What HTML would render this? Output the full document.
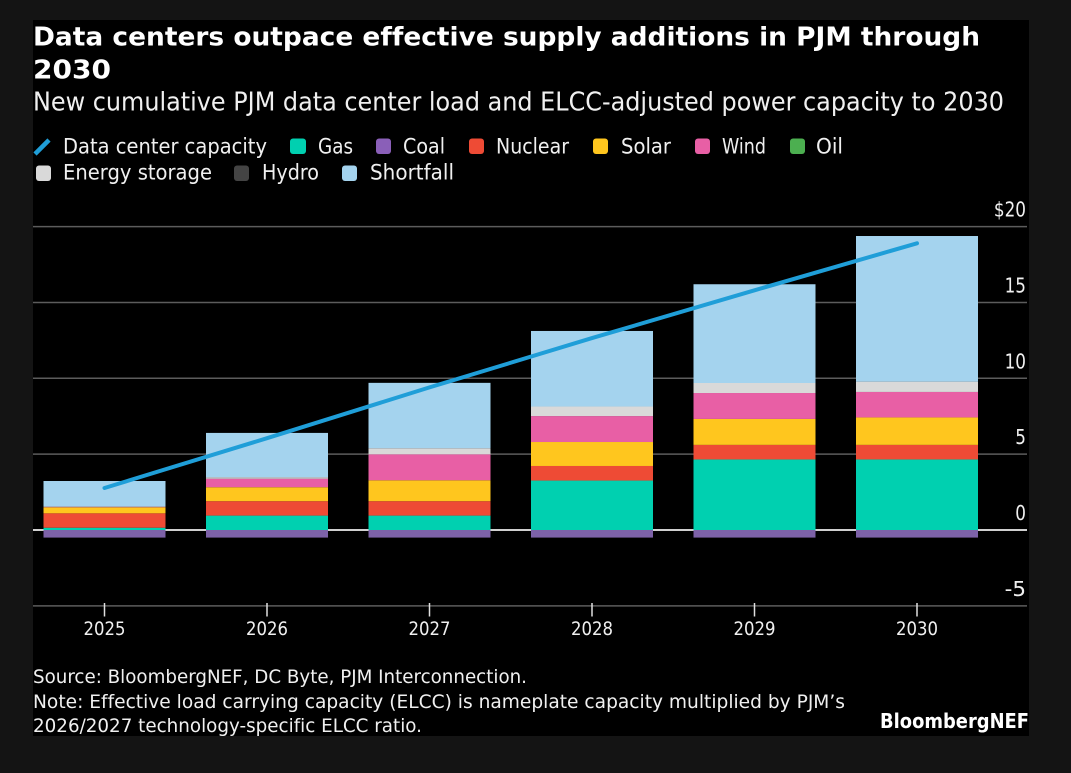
<!DOCTYPE html>
<html>
<head>
<meta charset="utf-8">
<style>
html,body{margin:0;padding:0;background:#141414;width:1071px;height:773px;overflow:hidden}
svg{display:block}
text{font-family:"DejaVu Sans","Liberation Sans",sans-serif;fill:#f0f0f0;font-variant-ligatures:none}
</style>
</head>
<body>
<svg id="chart" xmlns="http://www.w3.org/2000/svg" width="1071" height="773" viewBox="0 0 1071 773">
  <rect x="0" y="0" width="1071" height="773" fill="#141414"/>
  <rect x="33" y="20" width="996" height="716" fill="#000"/>
  <text x="33" y="45.5" font-size="26" font-weight="700" textLength="947" lengthAdjust="spacingAndGlyphs" style="fill:#fff">Data centers outpace effective supply additions in PJM through</text>
  <text x="33" y="78.5" font-size="26" font-weight="700" textLength="78" lengthAdjust="spacingAndGlyphs" style="fill:#fff">2030</text>
  <text x="33" y="110.5" font-size="26" textLength="971" lengthAdjust="spacingAndGlyphs">New cumulative PJM data center load and ELCC-adjusted power capacity to 2030</text>

  <g>
    <line x1="35" y1="154" x2="49" y2="140" stroke="#1f9ed8" stroke-width="4.5"/>
    <text x="63" y="153.5" font-size="21" textLength="204" lengthAdjust="spacingAndGlyphs">Data center capacity</text>
    <rect x="290" y="138.5" width="16" height="15.5" rx="3" fill="#00d0b0"/>
    <text x="318" y="153.5" font-size="21" textLength="35" lengthAdjust="spacingAndGlyphs">Gas</text>
    <rect x="376" y="138.5" width="15" height="15.5" rx="3" fill="#8a5fb8"/>
    <text x="403" y="153.5" font-size="21" textLength="42" lengthAdjust="spacingAndGlyphs">Coal</text>
    <rect x="469" y="138.5" width="15" height="15.5" rx="3" fill="#ee4b35"/>
    <text x="496" y="153.5" font-size="21" textLength="73" lengthAdjust="spacingAndGlyphs">Nuclear</text>
    <rect x="593" y="138.5" width="15" height="15.5" rx="3" fill="#ffc61e"/>
    <text x="621" y="153.5" font-size="21" textLength="50" lengthAdjust="spacingAndGlyphs">Solar</text>
    <rect x="695" y="138.5" width="15" height="15.5" rx="3" fill="#e85fa5"/>
    <text x="722" y="153.5" font-size="21" textLength="44" lengthAdjust="spacingAndGlyphs">Wind</text>
    <rect x="790" y="138.5" width="15" height="15.5" rx="3" fill="#4caf50"/>
    <text x="816" y="153.5" font-size="21" textLength="27" lengthAdjust="spacingAndGlyphs">Oil</text>
    <rect x="36" y="165.5" width="15" height="15.5" rx="3" fill="#d9d9d9"/>
    <text x="63" y="179.5" font-size="21" textLength="149" lengthAdjust="spacingAndGlyphs">Energy storage</text>
    <rect x="234" y="165.5" width="15" height="15.5" rx="3" fill="#444"/>
    <text x="262" y="179.5" font-size="21" textLength="57" lengthAdjust="spacingAndGlyphs">Hydro</text>
    <rect x="342" y="165.5" width="15" height="15.5" rx="3" fill="#a4d3ee"/>
    <text x="370" y="179.5" font-size="21" textLength="84" lengthAdjust="spacingAndGlyphs">Shortfall</text>
  </g>

  <g id="grid"></g>
  <g id="bars"></g>
  <g id="xaxis"></g>
  <g id="yaxis"></g>
  <polyline id="capacity-line" fill="none" stroke="#1f9ed8" stroke-width="4" stroke-linecap="round" stroke-linejoin="round"/>

  <text x="33" y="683" font-size="19" textLength="494" lengthAdjust="spacingAndGlyphs">Source: BloombergNEF, DC Byte, PJM Interconnection.</text>
  <text x="33" y="708" font-size="19" textLength="812" lengthAdjust="spacingAndGlyphs">Note: Effective load carrying capacity (ELCC) is nameplate capacity multiplied by PJM’s</text>
  <text x="33" y="732" font-size="19" textLength="389" lengthAdjust="spacingAndGlyphs">2026/2027 technology-specific ELCC ratio.</text>
  <text x="880" y="728" font-size="20" font-weight="700" textLength="149" lengthAdjust="spacingAndGlyphs" style="fill:#fff">BloombergNEF</text>
</svg>
<script>
const years = ['2025', '2026', '2027', '2028', '2029', '2030'];
const coal = [-0.5, -0.5, -0.5, -0.5, -0.5, -0.5];
const gas = [0.15, 0.95, 0.95, 3.26, 4.65, 4.65];
const nuclear = [0.95, 0.95, 0.95, 0.96, 0.96, 0.96];
const solar = [0.4, 0.92, 1.38, 1.58, 1.71, 1.81];
const wind = [0.03, 0.56, 1.71, 1.71, 1.71, 1.68];
const oil = [0, 0, 0, 0, 0, 0];
const storage = [0.02, 0.1, 0.4, 0.63, 0.66, 0.68];
const hydro = [0, 0, 0, 0, 0, 0];
const shortfall = [1.68, 2.92, 4.31, 4.98, 6.51, 9.6];
const capacity = [2.77, 6.05, 9.4, 12.65, 15.8, 18.9];
const yTicks = [-5, 0, 5, 10, 15, 20];
const yTickLabels = ['-5', '0', '5', '10', '15', '$20'];

const NS = 'http://www.w3.org/2000/svg';
const yScale = v => 530 - v * 15.17;
const xScale = i => 104.5 + i * 162.5;
const barWidth = 122;

function make(tag, attrs, parent) {
  const el = document.createElementNS(NS, tag);
  for (const k in attrs) el.setAttribute(k, attrs[k]);
  parent.appendChild(el);
  return el;
}

const grid = document.getElementById('grid');
const yaxis = document.getElementById('yaxis');
yTicks.forEach((t, i) => {
  const line = make('line', {x1: 33, x2: 1027, y1: yScale(t), y2: yScale(t), stroke: t === 0 ? '#d0d0d0' : '#5c5c5c', 'stroke-width': t === 0 ? 2 : 1.5}, grid);
  
  
  const label = make('text', {x: 1026, y: yScale(t) - 10, 'text-anchor': 'end', 'font-size': 20, textLength: yTickLabels[i].length * 10.7, lengthAdjust: 'spacingAndGlyphs'}, yaxis);
  
  
  label.textContent = yTickLabels[i];
});

const positiveStack = [
  {values: gas, color: '#00d0b0'},
  {values: nuclear, color: '#ee4b35'},
  {values: solar, color: '#ffc61e'},
  {values: wind, color: '#e85fa5'},
  {values: oil, color: '#4caf50'},
  {values: storage, color: '#d9d9d9'},
  {values: hydro, color: '#444444'},
  {values: shortfall, color: '#a4d3ee'}
];
const bars = document.getElementById('bars');
const xaxis = document.getElementById('xaxis');
years.forEach((year, i) => {
  let base = 0;
  positiveStack.forEach(s => {
    const v = s.values[i];
    if (v > 0) {
      const seg = make('rect', {x: xScale(i) - barWidth / 2, y: yScale(base + v), width: barWidth, height: yScale(base) - yScale(base + v), fill: s.color}, bars);
      
      
    }
    base += v;
  });
  const neg = make('rect', {x: xScale(i) - barWidth / 2, y: yScale(0), width: barWidth, height: yScale(coal[i]) - yScale(0), fill: '#7d62a8'}, bars);
  
  

  const tick = make('line', {x1: xScale(i), x2: xScale(i), y1: 603, y2: 616.5, stroke: '#e0e0e0', 'stroke-width': 1.5}, xaxis);
  
  
  const label = make('text', {x: xScale(i), y: 635, 'text-anchor': 'middle', 'font-size': 19, textLength: 42, lengthAdjust: 'spacingAndGlyphs'}, xaxis);
  
  
  label.textContent = year;
});

document.getElementById('capacity-line').setAttribute('points', capacity.map((v, i) => xScale(i) + ',' + yScale(v)).join(' '));
</script>
</body>
</html>
